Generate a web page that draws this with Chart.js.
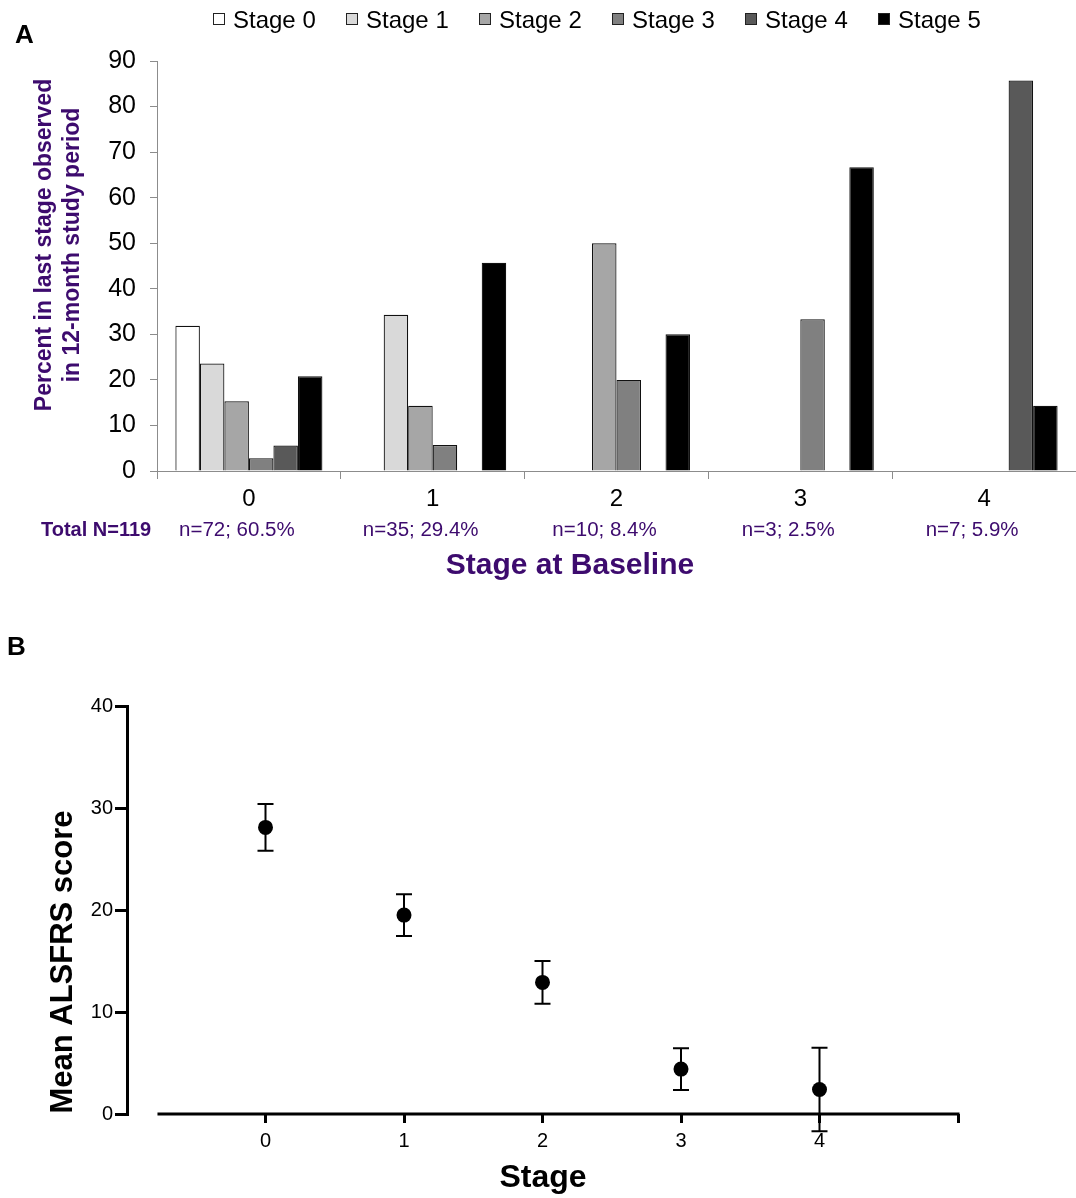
<!DOCTYPE html>
<html>
<head>
<meta charset="utf-8">
<script src="https://cdn.jsdelivr.net/npm/chart.js@4.4.0/dist/chart.umd.min.js"></script>
<style>
  html, body { margin: 0; padding: 0; background: #fff; }
  #wrap { position: relative; width: 1076px; height: 1198px; }
  canvas { position: absolute; left: 0; }
  #stageChart { top: 0; }
  #scoreChart { top: 600px; }
</style>
</head>
<body>
<div id="wrap">
  <canvas id="stageChart" width="1076" height="600"></canvas>
  <canvas id="scoreChart" width="1076" height="598"></canvas>
</div>
<script>
// panel A: last stage observed, by stage at baseline (percent)
const baselineStages = ['0', '1', '2', '3', '4'];
const groupCounts = ['n=72; 60.5%', 'n=35; 29.4%', 'n=10; 8.4%', 'n=3; 2.5%', 'n=7; 5.9%'];
const totalLabel = 'Total N=119';
const stageNames = ['Stage 0', 'Stage 1', 'Stage 2', 'Stage 3', 'Stage 4', 'Stage 5'];
const stage0 = [31.9, 0, 0, 0, 0];
const stage1 = [23.6, 34.3, 0, 0, 0];
const stage2 = [15.3, 14.3, 50.0, 0, 0];
const stage3 = [2.8, 5.7, 20.0, 33.3, 0];
const stage4 = [5.6, 0, 0, 0, 85.7];
const stage5 = [20.8, 45.7, 30.0, 66.7, 14.3];
const stageFills = ['#ffffff', '#d9d9d9', '#a6a6a6', '#808080', '#595959', '#000000'];

// panel B: mean ALSFRS score by stage
const scoreStages = [0, 1, 2, 3, 4];
const meanScore = [28.1, 19.5, 12.9, 4.4, 2.4];
const scoreError = [2.3, 2.05, 2.1, 2.05, 4.1];

const purple = '#3d0b6e';
const family = '"Liberation Sans", Arial, sans-serif';
Chart.defaults.font.family = family;
Chart.defaults.color = '#000';

const seriesA = [stage0, stage1, stage2, stage3, stage4, stage5];

// legend, axis titles and group counts for panel A
const stageText = {
  id: 'stageText',
  afterDraw(chart) {
    const { ctx } = chart;
    const x = chart.scales.x;
    ctx.save();
    ctx.textBaseline = 'middle';

    ctx.fillStyle = '#000';
    ctx.font = 'bold 26px ' + family;
    ctx.textAlign = 'left';
    ctx.fillText('A', 15, 36);

    // legend
    ctx.font = '24px ' + family;
    stageNames.forEach((name, i) => {
      const bx = 213 + i * 133;
      ctx.fillStyle = stageFills[i];
      ctx.fillRect(bx, 13, 12, 12);
      ctx.strokeStyle = '#222';
      ctx.lineWidth = 1;
      ctx.strokeRect(bx + 0.5, 13.5, 11, 11);
      ctx.fillStyle = '#000';
      ctx.fillText(name, bx + 20, 21);
    });

    ctx.fillStyle = purple;
    ctx.font = 'bold 20px ' + family;
    ctx.fillText(totalLabel, 41, 530);

    ctx.font = '20.5px ' + family;
    ctx.textAlign = 'center';
    groupCounts.forEach((t, i) => {
      ctx.fillText(t, x.getPixelForValue(i) - 12, 530);
    });

    ctx.font = 'bold 30px ' + family;
    ctx.fillText('Stage at Baseline', 570, 566);

    ctx.font = 'bold 23px ' + family;
    ctx.translate(0, 245);
    ctx.rotate(-Math.PI / 2);
    ctx.fillText('Percent in last stage observed', 0, 45);
    ctx.fillText('in 12-month study period', 0, 73);
    ctx.restore();
  }
};

new Chart(document.getElementById('stageChart'), {
  type: 'bar',
  data: {
    labels: baselineStages,
    datasets: seriesA.map((vals, i) => ({
      label: stageNames[i],
      data: vals,
      backgroundColor: stageFills[i],
      borderColor: '#111',
      borderWidth: 1.2,
      categoryPercentage: 0.8,
      barPercentage: 1.0
    }))
  },
  options: {
    responsive: false,
    animation: false,
    devicePixelRatio: 1,
    layout: { padding: { top: 61, left: 0, right: 0, bottom: 0 } },
    plugins: { legend: { display: false }, tooltip: { enabled: false } },
    scales: {
      x: {
        grid: { drawOnChartArea: false, color: '#8c8c8c', tickLength: 8, offset: true },
        border: { color: '#8c8c8c' },
        ticks: { font: { size: 24 }, color: '#000', padding: 6 },
        afterFit: s => { s.height = 129; }
      },
      y: {
        min: 0,
        max: 90,
        ticks: { stepSize: 10, font: { size: 25 }, color: '#000', padding: 14 },
        grid: { drawOnChartArea: false, color: '#8c8c8c', tickLength: 7 },
        border: { color: '#8c8c8c' },
        afterFit: s => { s.width = 157; }
      }
    }
  },
  plugins: [stageText]
});

// error bars, offset x axis line and titles for panel B
const scoreExtras = {
  id: 'scoreExtras',
  beforeDatasetsDraw(chart) {
    const { ctx, scales: { x, y } } = chart;
    ctx.save();
    ctx.strokeStyle = '#000';
    ctx.lineWidth = 2;
    scoreStages.forEach((s, i) => {
      const px = x.getPixelForValue(s);
      const top = y.getPixelForValue(meanScore[i] + scoreError[i]);
      const bot = y.getPixelForValue(meanScore[i] - scoreError[i]);
      ctx.beginPath();
      ctx.moveTo(px, top); ctx.lineTo(px, bot);
      ctx.moveTo(px - 8, top); ctx.lineTo(px + 8, top);
      ctx.moveTo(px - 8, bot); ctx.lineTo(px + 8, bot);
      ctx.stroke();
    });
    ctx.restore();
  },
  afterDraw(chart) {
    const { ctx, scales: { x, y } } = chart;
    ctx.save();
    ctx.strokeStyle = '#000';
    ctx.lineWidth = 3;
    ctx.beginPath();
    const y0 = y.getPixelForValue(0);
    ctx.moveTo(x.getPixelForValue(-0.78), y0);
    ctx.lineTo(x.getPixelForValue(5) + 1.5, y0);
    ctx.stroke();

    ctx.fillStyle = '#000';
    ctx.textBaseline = 'middle';
    ctx.textAlign = 'left';
    ctx.font = 'bold 26px ' + family;
    ctx.fillText('B', 7, 48);

    ctx.textAlign = 'center';
    ctx.font = 'bold 32px ' + family;
    ctx.fillText('Stage', 543, 578);

    ctx.font = 'bold 31px ' + family;
    ctx.translate(63, 362);
    ctx.rotate(-Math.PI / 2);
    ctx.fillText('Mean ALSFRS score', 0, 0);
    ctx.restore();
  }
};

new Chart(document.getElementById('scoreChart'), {
  type: 'scatter',
  data: {
    datasets: [{
      label: 'Mean ALSFRS score',
      data: scoreStages.map((s, i) => ({ x: s, y: meanScore[i] })),
      pointRadius: 7.5,
      backgroundColor: '#000',
      borderWidth: 0
    }]
  },
  options: {
    responsive: false,
    animation: false,
    devicePixelRatio: 1,
    layout: { padding: { top: 106, right: 118, left: 0, bottom: 0 } },
    plugins: { legend: { display: false }, tooltip: { enabled: false } },
    scales: {
      x: {
        type: 'linear',
        min: -1,
        max: 5,
        ticks: {
          stepSize: 1,
          font: { size: 20 },
          color: '#000',
          padding: 6,
          callback: v => (v >= 0 && v <= 4 ? String(v) : '')
        },
        grid: {
          drawOnChartArea: false,
          tickLength: 9,
          lineWidth: 3,
          color: c => (c.tick && c.tick.value < 0 ? 'rgba(0,0,0,0)' : '#000')
        },
        border: { display: false },
        afterFit: s => { s.height = 84; }
      },
      y: {
        min: 0,
        max: 40,
        ticks: { stepSize: 10, font: { size: 20 }, color: '#000', padding: 2 },
        grid: { drawOnChartArea: false, tickLength: 12, lineWidth: 3, color: '#000' },
        border: { display: true, width: 3, color: '#000' },
        afterFit: s => { s.width = 127; }
      }
    }
  },
  plugins: [scoreExtras]
});
</script>
</body>
</html>
